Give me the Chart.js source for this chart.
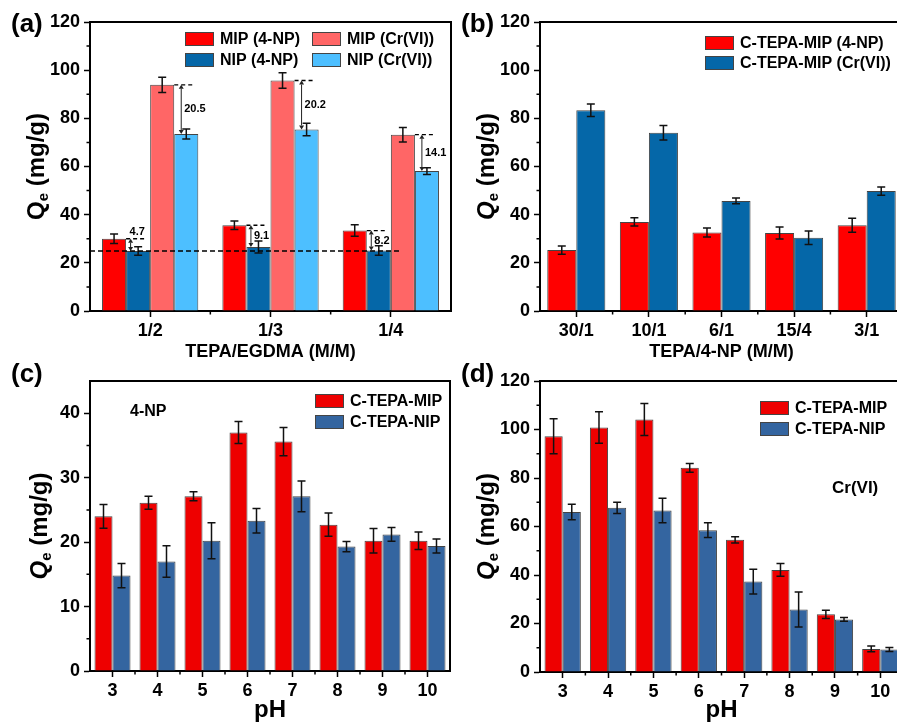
<!DOCTYPE html>
<html>
<head>
<meta charset="utf-8">
<script src="https://cdn.jsdelivr.net/npm/chart.js@4.4.0/dist/chart.umd.min.js"></script>
<style>
  html, body { margin: 0; padding: 0; background: #fff; overflow: hidden; width: 897px; height: 722px; }
  .panel { position: absolute; }
</style>
</head>
<body>
<div class="panel" style="left:0;top:0"><canvas id="chartA" width="460" height="372"></canvas></div>
<div class="panel" style="left:450px;top:0"><canvas id="chartB" width="470" height="372"></canvas></div>
<div class="panel" style="left:0;top:360px"><canvas id="chartC" width="460" height="362"></canvas></div>
<div class="panel" style="left:450px;top:360px"><canvas id="chartD" width="470" height="362"></canvas></div>
<script>
// panel (a) - TEPA/EGDMA ratio
const ratioLabelsA = ['1/2', '1/3', '1/4'];
const mip4npA = [30.0, 35.6, 33.4];
const mip4npErrA = [2.0, 1.8, 2.4];
const nip4npA = [24.9, 26.6, 25.1];
const nip4npErrA = [1.8, 2.5, 2.0];
const mipCrA = [93.9, 95.7, 73.2];
const mipCrErrA = [3.2, 3.2, 3.0];
const nipCrA = [73.5, 75.4, 58.1];
const nipCrErrA = [2.1, 2.6, 1.4];
const gap4npA = [4.7, 9.1, 8.2];
const gapCrA = [20.5, 20.2, 14.1];
const refLineA = 24.9;

// panel (b) - TEPA/4-NP ratio
const ratioLabelsB = ['30/1', '10/1', '6/1', '15/4', '3/1'];
const mip4npB = [25.3, 37.0, 32.6, 32.4, 35.6];
const mip4npErrB = [1.7, 1.7, 1.9, 2.5, 2.9];
const mipCrB = [83.4, 74.0, 45.7, 30.4, 49.8];
const mipCrErrB = [2.6, 3.0, 1.2, 2.8, 1.7];

// panels (c) and (d) - pH
const phLabels = ['3', '4', '5', '6', '7', '8', '9', '10'];
const mipC = [24.0, 26.1, 27.1, 37.0, 35.6, 22.7, 20.2, 20.2];
const mipErrC = [1.85, 1.0, 0.7, 1.7, 2.2, 1.8, 1.9, 1.35];
const nipC = [14.8, 17.0, 20.2, 23.3, 27.1, 19.3, 21.2, 19.4];
const nipErrC = [1.9, 2.45, 2.8, 1.9, 2.4, 0.8, 1.05, 1.1];
const mipD = [97.2, 100.8, 104.1, 84.2, 54.5, 42.1, 23.8, 9.5];
const mipErrD = [7.2, 6.5, 6.6, 1.8, 1.3, 2.6, 1.7, 1.2];
const nipD = [66.0, 67.7, 66.6, 58.5, 37.3, 25.8, 21.7, 9.3];
const nipErrD = [3.2, 2.3, 5.1, 3.0, 5.1, 7.2, 0.8, 0.8];

const FONT = '"Liberation Sans", Arial, sans-serif';
Chart.defaults.font.family = FONT;
Chart.defaults.color = '#000';

function arrowLine(ctx, x, y1, y2) {
  const h = 4, w = 2.5;
  ctx.beginPath();
  ctx.moveTo(x, y1 + h); ctx.lineTo(x, y2 - h);
  ctx.stroke();
  ctx.beginPath();
  ctx.moveTo(x, y1); ctx.lineTo(x - w, y1 + h); ctx.lineTo(x + w, y1 + h); ctx.closePath();
  ctx.moveTo(x, y2); ctx.lineTo(x - w, y2 - h); ctx.lineTo(x + w, y2 - h); ctx.closePath();
  ctx.fill();
}

function drawYTitle(ctx, x, yc, italic) {
  ctx.save();
  ctx.translate(x, yc);
  ctx.rotate(-Math.PI / 2);
  const fQ = (italic ? 'italic ' : '') + 'bold 24px ' + FONT;
  const fSub = 'bold 15px ' + FONT;
  const fRest = 'bold 24px ' + FONT;
  ctx.font = fQ; const wQ = ctx.measureText('Q').width;
  ctx.font = fSub; const wE = ctx.measureText('e').width;
  ctx.font = fRest; const wR = ctx.measureText(' (mg/g)').width;
  let cx = -(wQ + wE + wR) / 2;
  ctx.fillStyle = '#000';
  ctx.textBaseline = 'alphabetic';
  ctx.textAlign = 'left';
  ctx.font = fQ; ctx.fillText('Q', cx, 8.5); cx += wQ;
  ctx.font = fSub; ctx.fillText('e', cx, 13); cx += wE;
  ctx.font = fRest; ctx.fillText(' (mg/g)', cx, 8.5);
  ctx.restore();
}

const decor = {
  id: 'decor',
  afterDatasetsDraw(chart, args, opts) {
    const { ctx, chartArea: ca, scales: { y } } = chart;
    ctx.save();
    // error bars
    chart.data.datasets.forEach((ds, i) => {
      if (!ds.errors) return;
      chart.getDatasetMeta(i).data.forEach((bar, j) => {
        const v = ds.data[j], e = ds.errors[j];
        const y1 = y.getPixelForValue(v + e), y2 = y.getPixelForValue(v - e);
        ctx.strokeStyle = '#111';
        ctx.lineWidth = 1.5;
        ctx.beginPath();
        ctx.moveTo(bar.x, y1); ctx.lineTo(bar.x, y2);
        ctx.moveTo(bar.x - 4, y1); ctx.lineTo(bar.x + 4, y1);
        ctx.moveTo(bar.x - 4, y2); ctx.lineTo(bar.x + 4, y2);
        ctx.stroke();
      });
    });
    // difference markers (panel a)
    if (opts.gaps) {
      ctx.font = 'bold 11px ' + FONT;
      opts.gaps.forEach(g => {
        const mA = chart.getDatasetMeta(g.from).data;
        const mB = chart.getDatasetMeta(g.to).data;
        g.values.forEach((val, i) => {
          const a = mA[i], b = mB[i];
          ctx.strokeStyle = '#000';
          ctx.lineWidth = 1.3;
          ctx.setLineDash([4, 3]);
          ctx.beginPath();
          ctx.moveTo(a.x + a.width / 2, a.y); ctx.lineTo(b.x + 7, a.y);
          ctx.stroke();
          ctx.setLineDash([]);
          const xa = b.x - b.width / 2 + g.inset;
          ctx.strokeStyle = '#222'; ctx.fillStyle = '#222'; ctx.lineWidth = 1;
          arrowLine(ctx, xa, a.y, b.y);
          ctx.fillStyle = '#000';
          ctx.textAlign = 'left'; ctx.textBaseline = 'middle';
          if (b.y - a.y < 16) ctx.fillText(val.toFixed(1), xa - 1, a.y - 7);
          else ctx.fillText(val.toFixed(1), xa + 3, (a.y + b.y) / 2);
        });
      });
    }
    if (opts.refLine != null) {
      const last = chart.getDatasetMeta(opts.refLineTo).data;
      const lb = last[last.length - 1];
      const yr = y.getPixelForValue(opts.refLine);
      ctx.strokeStyle = '#000'; ctx.lineWidth = 1.5;
      ctx.setLineDash([5, 3]);
      ctx.beginPath();
      ctx.moveTo(ca.left, yr); ctx.lineTo(lb.x + lb.width / 2 + 10, yr);
      ctx.stroke();
      ctx.setLineDash([]);
    }
    ctx.restore();
  },
  afterDraw(chart, args, opts) {
    const { ctx, chartArea: ca, scales: { x, y } } = chart;
    ctx.save();
    // frame
    ctx.strokeStyle = '#000'; ctx.lineWidth = 2;
    ctx.beginPath();
    ctx.moveTo(ca.left, ca.top); ctx.lineTo(ca.right, ca.top); ctx.lineTo(ca.right, ca.bottom);
    ctx.stroke();
    // minor ticks
    ctx.lineWidth = 1.5;
    ctx.beginPath();
    const yt = y.ticks.map(t => t.value);
    for (let i = 0; i < yt.length - 1; i++) {
      const py = y.getPixelForValue((yt[i] + yt[i + 1]) / 2);
      ctx.moveTo(ca.left - 3.5, py); ctx.lineTo(ca.left, py);
    }
    for (let i = 0; i < x.ticks.length - 1; i++) {
      const px = (x.getPixelForValue(i) + x.getPixelForValue(i + 1)) / 2;
      ctx.moveTo(px, ca.bottom); ctx.lineTo(px, ca.bottom + 3.5);
    }
    ctx.stroke();
    // panel tag
    ctx.fillStyle = '#000';
    ctx.font = 'bold 26px ' + FONT;
    ctx.textAlign = 'left'; ctx.textBaseline = 'middle';
    ctx.fillText(opts.tag, 11, opts.tagY);
    // y title
    drawYTitle(ctx, opts.yTitleX, (ca.top + ca.bottom) / 2, opts.italic);
    // legend
    const lg = opts.legend;
    ctx.font = 'bold 16px ' + FONT;
    chart.data.datasets.forEach((ds, k) => {
      const col = Math.floor(k / lg.rows), row = k % lg.rows;
      const bx = lg.x + col * lg.colW, by = lg.y + row * lg.rowH;
      ctx.fillStyle = ds.backgroundColor;
      ctx.fillRect(bx, by - 7, 29, 14);
      ctx.strokeStyle = '#444'; ctx.lineWidth = 1;
      ctx.strokeRect(bx + 0.5, by - 6.5, 28, 13);
      ctx.fillStyle = '#000';
      ctx.textBaseline = 'middle';
      ctx.fillText(ds.label, bx + 35, by + 1);
    });
    // note text
    if (opts.note) {
      ctx.font = 'bold ' + opts.note.size + 'px ' + FONT;
      ctx.textBaseline = 'middle';
      ctx.fillText(opts.note.text, opts.note.x, opts.note.y);
    }
    ctx.restore();
  }
};

function barSet(label, data, errors, color) {
  return {
    label, data, errors,
    backgroundColor: color,
    borderColor: '#444',
    borderWidth: 1,
    categoryPercentage: 0.8,
    barPercentage: 1.0
  };
}

function makeChart(id, cfg) {
  const tickFont = { family: FONT, size: 18, weight: 'bold' };
  new Chart(document.getElementById(id), {
    type: 'bar',
    data: { labels: cfg.labels, datasets: cfg.datasets },
    plugins: [decor],
    options: {
      responsive: false,
      animation: false,
      devicePixelRatio: 1,
      layout: { padding: cfg.padding },
      plugins: {
        legend: { display: false },
        tooltip: { enabled: false },
        decor: cfg.decor
      },
      scales: {
        x: {
          grid: { drawOnChartArea: false, offset: false, tickLength: 6, tickWidth: 1.5, tickColor: '#000' },
          border: { display: true, color: '#000', width: 2 },
          ticks: { font: tickFont, color: '#000', padding: 3, maxRotation: 0, autoSkip: false },
          title: { display: true, text: cfg.xTitle, color: '#000', font: cfg.xTitleFont, padding: cfg.xTitlePad },
          afterFit(s) { s.height = cfg.xHeight; }
        },
        y: {
          min: 0, max: cfg.yMax,
          ticks: { stepSize: cfg.yStep, font: tickFont, color: '#000', padding: 4, includeBounds: false },
          grid: { drawOnChartArea: false, tickLength: 6, tickWidth: 1.5, tickColor: '#000' },
          border: { display: true, color: '#000', width: 2 },
          afterFit(s) { s.width = 90; }
        }
      }
    }
  });
}

document.addEventListener('DOMContentLoaded', function () {
  makeChart('chartA', {
    labels: ratioLabelsA,
    datasets: [
      barSet('MIP (4-NP)', mip4npA, mip4npErrA, '#FF0000'),
      barSet('NIP (4-NP)', nip4npA, nip4npErrA, '#0567A8'),
      barSet('MIP (Cr(VI))', mipCrA, mipCrErrA, '#FF6666'),
      barSet('NIP (Cr(VI))', nipCrA, nipCrErrA, '#4DBFFF')
    ],
    padding: { left: 0, top: 22, right: 9, bottom: 0 },
    xHeight: 61,
    xTitle: 'TEPA/EGDMA (M/M)',
    xTitleFont: { family: FONT, size: 18, weight: 'bold' },
    xTitlePad: { top: 0, bottom: 9 },
    yMax: 120, yStep: 20,
    decor: {
      tag: '(a)', tagY: 25, yTitleX: 35, italic: false,
      legend: { x: 185, y: 39, rows: 2, rowH: 21, colW: 127 },
      gaps: [
        { from: 0, to: 1, values: gap4npA, inset: 4.5 },
        { from: 2, to: 3, values: gapCrA, inset: 7 }
      ],
      refLine: refLineA, refLineTo: 1
    }
  });

  makeChart('chartB', {
    labels: ratioLabelsB,
    datasets: [
      barSet('C-TEPA-MIP (4-NP)', mip4npB, mip4npErrB, '#FF0000'),
      barSet('C-TEPA-MIP (Cr(VI))', mipCrB, mipCrErrB, '#0567A8')
    ],
    padding: { left: 0, top: 22, right: 17, bottom: 0 },
    xHeight: 61,
    xTitle: 'TEPA/4-NP (M/M)',
    xTitleFont: { family: FONT, size: 18, weight: 'bold' },
    xTitlePad: { top: 0, bottom: 9 },
    yMax: 120, yStep: 20,
    decor: {
      tag: '(b)', tagY: 25, yTitleX: 35, italic: true,
      legend: { x: 255, y: 43, rows: 2, rowH: 20, colW: 0 }
    }
  });

  makeChart('chartC', {
    labels: phLabels,
    datasets: [
      barSet('C-TEPA-MIP', mipC, mipErrC, '#EE0000'),
      barSet('C-TEPA-NIP', nipC, nipErrC, '#3465A0')
    ],
    padding: { left: 0, top: 21, right: 10, bottom: 0 },
    xHeight: 51,
    xTitle: 'pH',
    xTitleFont: { family: FONT, size: 24, weight: 'bold', lineHeight: 1 },
    xTitlePad: { top: 0, bottom: 0 },
    yMax: 45, yStep: 10,
    decor: {
      tag: '(c)', tagY: 15, yTitleX: 38, italic: true,
      legend: { x: 315, y: 41, rows: 2, rowH: 21, colW: 0 },
      note: { text: '4-NP', x: 130, y: 52, size: 16 }
    }
  });

  makeChart('chartD', {
    labels: phLabels,
    datasets: [
      barSet('C-TEPA-MIP', mipD, mipErrD, '#EE0000'),
      barSet('C-TEPA-NIP', nipD, nipErrD, '#3465A0')
    ],
    padding: { left: 0, top: 21, right: 17, bottom: 0 },
    xHeight: 50,
    xTitle: 'pH',
    xTitleFont: { family: FONT, size: 24, weight: 'bold', lineHeight: 1 },
    xTitlePad: { top: 0, bottom: 0 },
    yMax: 120, yStep: 20,
    decor: {
      tag: '(d)', tagY: 15, yTitleX: 35, italic: true,
      legend: { x: 310, y: 48, rows: 2, rowH: 21, colW: 0 },
      note: { text: 'Cr(VI)', x: 382, y: 128, size: 17 }
    }
  });
});
</script>
</body>
</html>
